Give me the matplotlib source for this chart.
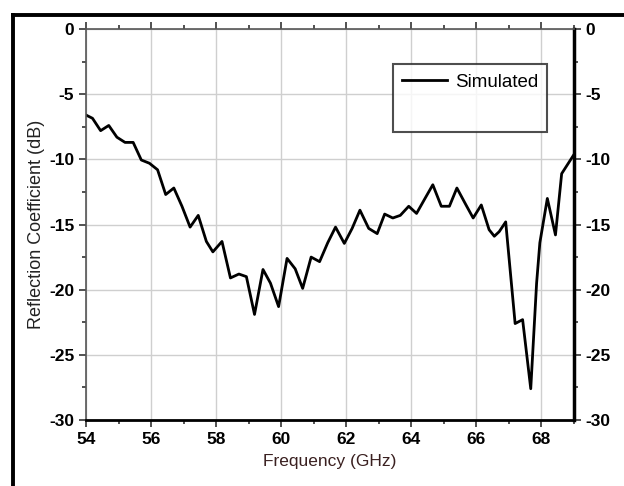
import matplotlib
matplotlib.use("Agg")
import matplotlib.pyplot as plt
from matplotlib.lines import Line2D
from matplotlib.ticker import MultipleLocator

# simulated reflection coefficient
freq = [54.0, 54.2, 54.45, 54.7, 54.95, 55.2, 55.45, 55.7, 55.95, 56.2,
        56.45, 56.7, 56.95, 57.2, 57.45, 57.7, 57.9, 58.18, 58.44, 58.7,
        58.93, 59.18, 59.44, 59.67, 59.92, 60.18, 60.43, 60.66, 60.92, 61.18,
        61.43, 61.67, 61.94, 62.18, 62.42, 62.69, 62.95, 63.18, 63.43, 63.66,
        63.92, 64.16, 64.42, 64.66, 64.92, 65.17, 65.4, 65.68, 65.9, 66.15,
        66.39, 66.55, 66.7, 66.9, 67.19, 67.42, 67.67, 67.85, 67.95, 68.18,
        68.43, 68.62, 68.98]
s11 = [-6.6, -6.85, -7.8, -7.4, -8.3, -8.7, -8.7, -10.05, -10.3, -10.8,
       -12.7, -12.2, -13.6, -15.2, -14.3, -16.3, -17.1, -16.3, -19.1, -18.8,
       -19.0, -21.9, -18.45, -19.5, -21.3, -17.6, -18.4, -19.9, -17.5, -17.85,
       -16.4, -15.2, -16.45, -15.3, -13.9, -15.3, -15.7, -14.2, -14.5, -14.3,
       -13.6, -14.15, -13.0, -11.95, -13.6, -13.6, -12.2, -13.5, -14.5, -13.5,
       -15.4, -15.9, -15.55, -14.8, -22.6, -22.3, -27.6, -19.5, -16.4, -13.0,
       -15.8, -11.1, -9.7]

xticks = [54, 56, 58, 60, 62, 64, 66, 68]
yticks = [0, -5, -10, -15, -20, -25, -30]

plt.rcParams['font.family'] = ['Liberation Sans', 'DejaVu Sans']
plt.rcParams['axes.unicode_minus'] = False

fig = plt.figure(figsize=(6.24, 4.86), dpi=100)
ax = fig.add_axes([0.1378, 0.1358, 0.9199 - 0.1378, 0.9403 - 0.1358])

ax.plot(freq, s11, color='black', lw=2, label='Simulated')
ax.plot([], [], color='none', label=' ')

ax.set_xlim(54, 69)
ax.set_ylim(-30, 0)
ax.set_xticks(xticks)
ax.set_yticks(yticks)
ax.xaxis.set_minor_locator(MultipleLocator(1))
ax.yaxis.set_minor_locator(MultipleLocator(2.5))
ax.grid(True, which='major', color='#cfcfcf', lw=1)

ax.tick_params(axis='both', which='both', direction='out', labelsize=12.5,
               width=1.2, color='#333333')
ax.tick_params(axis='both', which='major', length=5)
ax.tick_params(axis='both', which='minor', length=3)
ax.tick_params(axis='y', which='both', right=True, labelright=True)
ax.tick_params(axis='x', which='both', top=True)
for t in ax.xaxis.get_major_ticks() + ax.yaxis.get_major_ticks():
    t.label1.set_fontweight('bold')
    t.label2.set_fontweight('bold')

ax.spines['left'].set_color('#555555')
ax.spines['left'].set_linewidth(1.2)
ax.spines['top'].set_color('#555555')
ax.spines['top'].set_linewidth(1.2)
ax.spines['bottom'].set_color('black')
ax.spines['bottom'].set_linewidth(2)
ax.spines['right'].set_color('black')
ax.spines['right'].set_linewidth(2.5)

ax.set_xlabel('Frequency (GHz)', fontsize=12.5, color='#3a2020', labelpad=5)
ax.set_ylabel('Reflection Coefficient (dB)', fontsize=13, color='#222222', labelpad=3)

leg = ax.legend(loc='upper left', bbox_to_anchor=(0.629, 0.91), fontsize=13.5,
                frameon=True, fancybox=False, handlelength=2.4,
                borderpad=0.5, labelspacing=0.8, handletextpad=0.4,
                borderaxespad=0)
leg.get_frame().set_edgecolor('#222222')
leg.get_frame().set_linewidth(1.5)

# outer frame around the figure
fig.add_artist(Line2D([0.0216, 0.0216], [0.0, 0.970], color='black', lw=2.8,
                      transform=fig.transFigure))
fig.add_artist(Line2D([0.0216, 1.0], [0.970, 0.970], color='black', lw=2.8,
                      transform=fig.transFigure))

fig.savefig('out.png', dpi=100)
